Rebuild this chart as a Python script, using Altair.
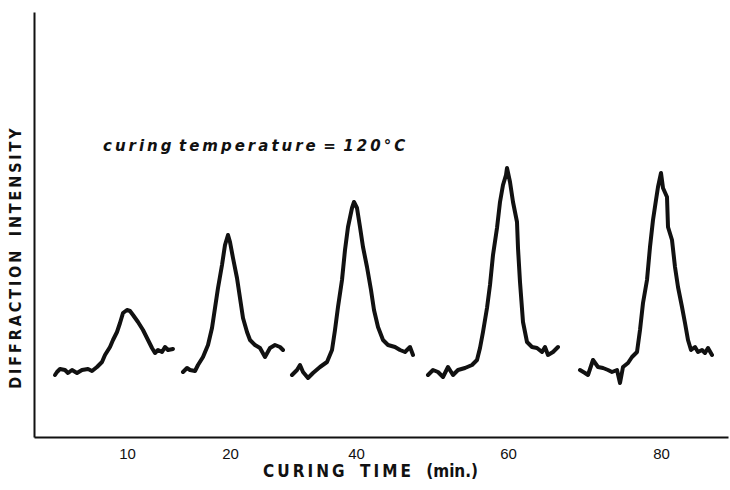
import altair as alt
import pandas as pd

# Curing times (minutes) for each diffraction scan
curing_times = ["10", "20", "40", "60", "80"]

# Scan position (arbitrary units) and diffraction intensity (arbitrary units)
scan10_pos = [21, 23, 26, 31, 34, 38, 43, 48, 54, 58, 63, 68, 71, 76, 79, 83, 86, 89, 93, 96, 99, 104, 109, 114, 118, 121, 124, 128, 131, 134, 139]
scan10_int = [62, 65, 68, 67, 64, 67, 64, 67, 68, 66, 70, 75, 82, 90, 97, 105, 114, 124, 127, 126, 122, 115, 107, 97, 89, 84, 87, 85, 90, 87, 88]

scan20_pos = [149, 153, 156, 161, 164, 169, 174, 178, 181, 184, 188, 191, 194, 196, 199, 203, 206, 209, 213, 216, 221, 226, 231, 236, 241, 246, 249]
scan20_int = [65, 69, 67, 66, 72, 80, 92, 109, 129, 149, 172, 192, 202, 195, 179, 159, 139, 119, 105, 97, 92, 89, 80, 89, 92, 90, 87]

scan40_pos = [258, 263, 266, 269, 274, 279, 286, 293, 298, 301, 304, 308, 311, 314, 318, 320, 323, 326, 329, 333, 337, 340, 344, 349, 354, 361, 366, 371, 376, 379]
scan40_int = [62, 67, 72, 65, 59, 64, 70, 75, 87, 107, 130, 157, 187, 210, 229, 235, 229, 210, 190, 170, 147, 127, 110, 97, 92, 90, 87, 85, 90, 82]

scan60_pos = [394, 399, 404, 409, 414, 419, 424, 431, 438, 443, 446, 449, 453, 456, 459, 463, 466, 469, 472, 473, 476, 479, 483, 484, 486, 489, 493, 498, 503, 508, 511, 514, 519, 524]
scan60_int = [62, 67, 65, 60, 70, 62, 67, 69, 72, 77, 89, 105, 129, 152, 182, 209, 235, 252, 262, 269, 255, 235, 215, 189, 155, 115, 95, 90, 89, 85, 90, 82, 85, 90]

scan80_pos = [546, 551, 554, 559, 564, 569, 574, 578, 583, 586, 589, 594, 598, 603, 606, 609, 613, 616, 619, 622, 624, 627, 629, 633, 634, 638, 641, 644, 648, 651, 654, 657, 661, 664, 668, 671, 674, 678]
scan80_int = [67, 64, 62, 77, 70, 69, 67, 65, 67, 54, 70, 74, 80, 85, 107, 134, 157, 190, 217, 237, 250, 264, 249, 240, 210, 197, 170, 150, 130, 114, 97, 87, 90, 85, 87, 84, 89, 82]

# Positions of the curing-time labels on the horizontal axis (peak centres)
tick_pos = [93, 196, 322, 474, 627]
tick_labels = curing_times

annotation_words = ["curing", "temperature", "=", "120°C"]

scans = [
    (curing_times[0], scan10_pos, scan10_int),
    (curing_times[1], scan20_pos, scan20_int),
    (curing_times[2], scan40_pos, scan40_int),
    (curing_times[3], scan60_pos, scan60_int),
    (curing_times[4], scan80_pos, scan80_int),
]
rows = []
for t, xs, ys in scans:
    for i, (x, y) in enumerate(zip(xs, ys)):
        rows.append({"time": t, "pos": x, "intensity": y, "order": i})
df = pd.DataFrame(rows)


def spaced(s, gap="\u2009"):
    return gap.join(list(s))


label_expr = " : ".join(
    f"datum.value == {p} ? '{l}'" for p, l in zip(tick_pos, tick_labels)
) + " : ''"

cond_font = "Liberation Sans Narrow, DejaVu Sans Condensed, Roboto Condensed, Roboto, sans-serif"

x_scale = alt.Scale(domain=[0, 694], nice=False, zero=False)
y_scale = alt.Scale(domain=[0, 425], nice=False, zero=False)

x_axis = alt.Axis(
    values=tick_pos,
    labelExpr=label_expr,
    ticks=False,
    grid=False,
    domainColor="#111111",
    domainWidth=2,
    labelFont="Liberation Sans, Arial, sans-serif",
    labelFontSize=15,
    labelColor="#111111",
    labelPadding=9,
    title=spaced("CURING") + "\u2002\u2002" + spaced("TIME") + "\u2002\u2002(min.)",
    titleFont=cond_font,
    titleFontSize=17,
    titleFontWeight="bold",
    titleColor="#111111",
    titleX=336,
    titleY=26,
    titleAnchor="middle",
)

y_axis = alt.Axis(
    labels=False,
    ticks=False,
    grid=False,
    domainColor="#111111",
    domainWidth=2,
    title=spaced("DIFFRACTION") + "\u2002\u2002" + spaced("INTENSITY"),
    titleFont=cond_font,
    titleFontSize=16,
    titleFontWeight="bold",
    titleColor="#111111",
    titleAngle=270,
    titleX=-11,
    titleY=246,
    titleBaseline="bottom",
    titleAlign="center",
)

lines = alt.Chart(df).mark_line(
    color="#111111", strokeWidth=4, strokeJoin="round", strokeCap="round"
).encode(
    x=alt.X("pos:Q", scale=x_scale, axis=x_axis),
    y=alt.Y("intensity:Q", scale=y_scale, axis=y_axis),
    detail="time:N",
    order="order:Q",
)

ann_text = "\u2002".join(spaced(w, "\u2009") for w in annotation_words)

ann = alt.Chart(pd.DataFrame({"t": [ann_text]})).mark_text(
    align="left",
    baseline="alphabetic",
    font="DejaVu Sans, sans-serif",
    fontStyle="italic",
    fontWeight="bold",
    fontSize=15,
    color="#111111",
).encode(
    x=alt.datum(69),
    y=alt.datum(286),
    text=alt.Text("t:N"),
)

chart = alt.layer(lines, ann).properties(
    width=694,
    height=425,
    autosize=alt.AutoSizeParams(type="none"),
    padding={"left": 34, "top": 12, "right": 2, "bottom": 53},
    background="white",
).configure_view(stroke=None)

chart.save("out.html", embed_options={"renderer": "svg", "actions": False})
